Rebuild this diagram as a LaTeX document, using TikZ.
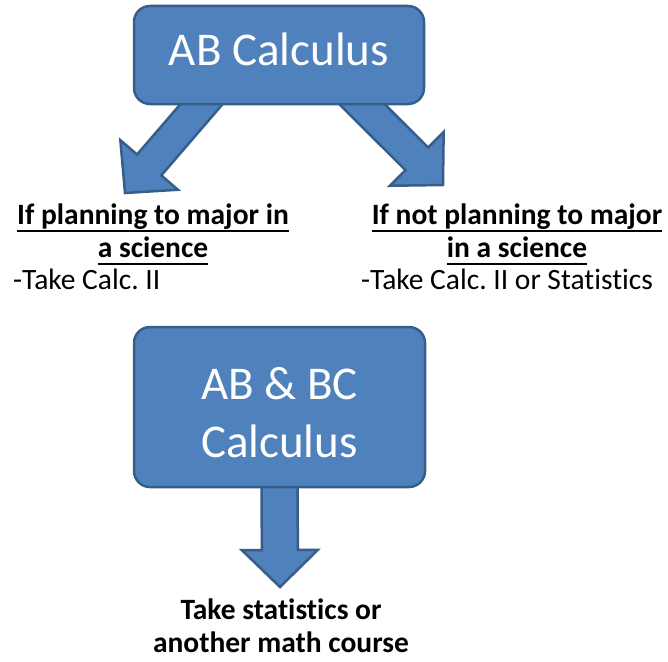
\documentclass[tikz,border=0pt]{standalone}
\usepackage{fontspec}
\setmainfont{Carlito}[Ligatures=NoCommon]
\usetikzlibrary{calc,backgrounds}
\definecolor{BoxBlue}{HTML}{4F81BD}
\definecolor{EdgeBlue}{HTML}{385D8A}
\frenchspacing

% underlined heading line, rule at a fixed depth
\newcommand{\undertext}[1]{{\setbox0=\hbox{#1}\dp0=0pt\vtop{\box0\kern5.5pt\hrule height 2pt}}}
% block arrow: tail, tip, half shaft width
\newcommand{\blockarrow}[3]{%
  \path ($(#2)!37pt!(#1)$) coordinate (hb);
  \draw[blockarr] ($(#1)!#3!90:(#2)$) -- ($(hb)!#3!90:(#2)$) -- ($(hb)!38pt!90:(#2)$)
    -- (#2) -- ($(hb)!38pt!-90:(#2)$) -- ($(hb)!#3!-90:(#2)$) -- ($(#1)!#3!-90:(#2)$) -- cycle;}

\begin{document}
\begin{tikzpicture}[x=1pt,y=-1pt,
    course/.style={draw=EdgeBlue,line width=2.5pt,fill=BoxBlue,rounded corners=16pt,
                   text=white,align=center,font=\fontsize{47}{58}\selectfont},
    blockarr/.style={draw=EdgeBlue,line width=2.5pt,fill=BoxBlue,line join=miter},
    advice/.style={align=center,inner sep=0pt,font=\fontsize{29.5}{33}\selectfont\bfseries},
    note/.style={inner sep=0pt,font=\fontsize{29.5}{33}\selectfont},
  ]
  \useasboundingbox (0,0) rectangle (668,661);

  \node[course,minimum width=290pt,minimum height=98pt,text depth=12pt] (ab) at (279,55) {AB Calculus};
  \node[course,minimum width=291pt,minimum height=160pt] (abbc) at (279.5,407) {\rule{0pt}{43pt}AB \& BC\\Calculus};

  \node[advice,anchor=north] (sci) at (153,204) {\undertext{If planning to major in}\\\undertext{a science}};
  \node[advice,anchor=north] (nonsci) at (517,204) {\undertext{If not planning to major}\\\undertext{in a science}};
  \node[note,anchor=base west] (sciNote) at (13,289) {-Take Calc. II};
  \node[note,anchor=base west] (nonsciNote) at (361,289) {-Take Calc. II or Statistics};
  \node[advice,anchor=north] (after) at (281,599) {Take statistics or\\another math course};

  \coordinate (sciTip) at (125,193);
  \coordinate (nonsciTip) at (443,185);
  \coordinate (afterTip) at (280,587);

  \begin{scope}[on background layer]
    \blockarrow{$(ab.south)+(-50,-33)$}{sciTip}{16pt}
    \blockarrow{$(ab.south)+(51,-33)$}{nonsciTip}{16pt}
    \blockarrow{$(abbc.south)+(0,-18)$}{afterTip}{18pt}
  \end{scope}
\end{tikzpicture}
\end{document}
